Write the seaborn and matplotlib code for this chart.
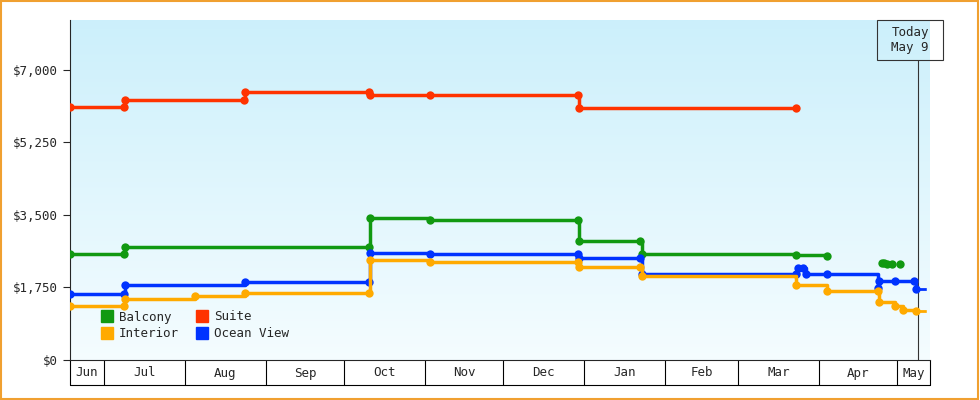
import matplotlib
matplotlib.use('Agg')
import matplotlib.pyplot as plt
import numpy as np
import pandas as pd
import seaborn as sns

sns.set_style('white')
plt.rcParams['font.family'] = ['DejaVu Sans Mono']

# days counted from Jun 17
suite_days = [0, 20.5, 21, 66.5, 67, 114.5, 115, 138, 194.5, 195, 278]
suite_vals = [6100, 6100, 6280, 6280, 6470, 6470, 6400, 6400, 6400, 6080, 6080]

balcony_days = [0, 20.5, 21, 114.5, 115, 138, 194.5, 195, 218.5, 219, 278, 290]
balcony_vals = [2560, 2560, 2730, 2730, 3430, 3380, 3380, 2870, 2870, 2560, 2535, 2510]
balcony_dots_days = [311, 312, 313, 315, 318]
balcony_dots_vals = [2340, 2330, 2320, 2320, 2320]

ocean_days = [0, 20.5, 21, 67, 114.5, 115, 138, 194.5, 195, 218.5, 219, 278, 279, 281, 282, 290, 309.5, 310, 316, 323.5, 324]
ocean_vals = [1590, 1590, 1810, 1880, 1880, 2580, 2560, 2560, 2460, 2460, 2075, 2075, 2220, 2220, 2075, 2075, 1740, 1910, 1910, 1910, 1710]

interior_days = [0, 20.5, 21, 48, 67, 114.5, 115, 138, 194.5, 195, 218.5, 219, 278, 290, 309.5, 310, 316, 319, 324]
interior_vals = [1300, 1300, 1470, 1545, 1620, 1620, 2415, 2365, 2365, 2245, 2245, 2030, 1810, 1665, 1665, 1400, 1300, 1210, 1180]

month_names = ['Jun', 'Jul', 'Aug', 'Sep', 'Oct', 'Nov', 'Dec', 'Jan', 'Feb', 'Mar', 'Apr', 'May']
month_starts = [0, 13, 44, 75, 105, 136, 166, 197, 228, 256, 287, 317, 329.5]
today_day = 325

xmin, xmax = 0, 329.5
fig = plt.figure(figsize=(9.8, 4), dpi=100)
ax = fig.add_axes([70 / 980, 40 / 400, 860 / 980, 340 / 400])

grad = np.linspace(1, 0, 256).reshape(-1, 1)
top = np.array([0.80, 0.94, 0.985])
bot = np.array([0.96, 0.99, 1.0])
img = bot + (top - bot) * grad[..., None]
ax.imshow(img.reshape(256, 1, 3), extent=[xmin, xmax, 0, 8200], aspect='auto', zorder=0)

series = [('Suite', suite_days, suite_vals, '#ff3300'),
          ('Balcony', balcony_days, balcony_vals, '#119911'),
          ('Ocean View', ocean_days, ocean_vals, '#0033ff'),
          ('Interior', interior_days, interior_vals, '#ffaa00')]
for name, d, v, c in series:
    df = pd.DataFrame({'day': d, 'price': v})
    sns.lineplot(data=df, x='day', y='price', ax=ax, color=c, lw=2.5,
                 drawstyle='steps-post', marker='o', markersize=6,
                 markeredgewidth=0, zorder=3)
ax.plot(balcony_dots_days, balcony_dots_vals, 'o', color='#119911', ms=6, mew=0, zorder=3)
ax.plot([ocean_days[-1], xmax], [ocean_vals[-1]] * 2, '--', color='#0033ff', lw=2)
ax.plot([interior_days[-1], xmax], [interior_vals[-1]] * 2, '--', color='#ffaa00', lw=2)

ax.set_xlim(xmin, xmax)
ax.set_ylim(0, 8200)
ax.set_yticks([0, 1750, 3500, 5250, 7000])
ax.set_yticklabels(['$0', '$1,750', '$3,500', '$5,250', '$7,000'], fontsize=9)
ax.tick_params(axis='y', length=5, direction='out', left=True)
ax.set_xticks([])
ax.set_xlabel('')
ax.set_ylabel('')
for s in ['top', 'right']:
    ax.spines[s].set_visible(False)

# month boxes under the axis
trans = ax.get_xaxis_transform()
for i, name in enumerate(month_names):
    a, b = month_starts[i], month_starts[i + 1]
    ax.plot([a, a], [0, -25 / 340], color='black', lw=0.8, transform=trans, clip_on=False)
    ax.text((a + b) / 2, -13 / 340, name, ha='center', va='center', fontsize=9, transform=trans)
ax.plot([xmin, xmax], [-25 / 340] * 2, color='black', lw=0.8, transform=trans, clip_on=False)
ax.plot([xmax, xmax], [0, -25 / 340], color='black', lw=0.8, transform=trans, clip_on=False)

# today marker
ax.axvline(today_day, ymin=0, ymax=300 / 340, color='#333333', lw=0.8)
fig.patches.append(plt.Rectangle((877 / 980, 1 - 60 / 400), 66 / 980, 40 / 400,
                                 transform=fig.transFigure, fill=False, ec='#333333', lw=0.8))
fig.text(910 / 980, 1 - 40 / 400, 'Today\nMay 9', ha='center', va='center', fontsize=9)

handles = [plt.Line2D([], [], ls='', marker='s', ms=8, color=c) for c in ['#119911', '#ffaa00', '#ff3300', '#0033ff']]
ax.legend(handles, ['Balcony', 'Interior', 'Suite', 'Ocean View'], ncol=2, loc='lower left',
          frameon=False, fontsize=9, handletextpad=0.0, columnspacing=0.8, labelspacing=0.3,
          bbox_to_anchor=(0.015, 0.025))

fig.patches.append(plt.Rectangle((0.001, 0.002), 0.997, 0.995, transform=fig.transFigure,
                                 fill=False, ec='#f0a030', lw=1.5))
fig.savefig('out.png', dpi=100)
